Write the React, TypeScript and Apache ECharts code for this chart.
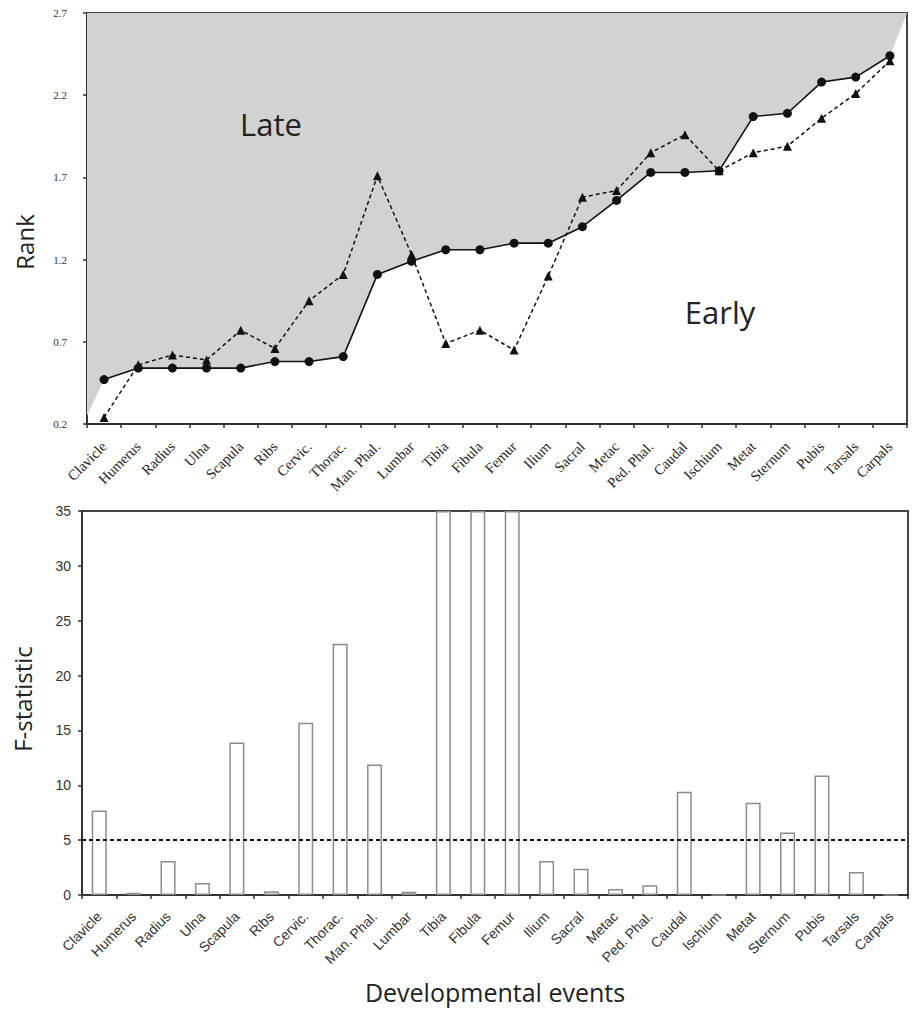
import React, { useEffect, useRef } from "react";
import * as echarts from "echarts";

const categories = [
  "Clavicle", "Humerus", "Radius", "Ulna", "Scapula", "Ribs", "Cervic.", "Thorac.",
  "Man. Phal.", "Lumbar", "Tibia", "Fibula", "Femur", "Ilium", "Sacral", "Metac",
  "Ped. Phal.", "Caudal", "Ischium", "Metat", "Sternum", "Pubis", "Tarsals", "Carpals",
];

const rankCircle = [
  0.47, 0.54, 0.54, 0.54, 0.54, 0.58, 0.58, 0.61, 1.11, 1.19, 1.26, 1.26,
  1.3, 1.3, 1.4, 1.56, 1.73, 1.73, 1.74, 2.07, 2.09, 2.28, 2.31, 2.44,
];

const rankTriangle = [
  0.24, 0.56, 0.62, 0.59, 0.77, 0.66, 0.95, 1.11, 1.71, 1.23, 0.69, 0.77,
  0.65, 1.1, 1.58, 1.62, 1.85, 1.96, 1.74, 1.85, 1.89, 2.06, 2.21, 2.41,
];

const fStatistic = [
  7.7, 0.2, 3.1, 1.1, 13.9, 0.35, 15.7, 22.9, 11.9, 0.3, 35, 35,
  35, 3.1, 2.4, 0.55, 0.9, 9.4, 0, 8.4, 5.7, 10.9, 2.1, 0,
];

const rankTicks = { min: 0.2, max: 2.7, step: 0.5 };
const fTicks = { min: 0, max: 35, step: 5 };
const threshold = 5;
const lateBoundaryStart = 0.25;
const lateBoundaryEnd = 2.7;

export default function App() {
  const ref = useRef<HTMLDivElement>(null);

  useEffect(() => {
    if (!ref.current) return;
    const chart = echarts.init(ref.current, null, { renderer: "svg", width: 913, height: 1009 });
    const n = categories.length;
    const areaData = [
      [0, lateBoundaryStart],
      ...rankCircle.map((v, i) => [i + 0.5, v]),
      [n, lateBoundaryEnd],
    ];
    const axisColor = "#333";
    const serif = "Liberation Serif";
    const sans = "Liberation Sans";
    const titleFont = "Open Sans";

    chart.setOption({
      animation: false,
      backgroundColor: "#fff",
      grid: [
        { left: 87, top: 13, width: 820, height: 411, show: true, borderColor: "#444", borderWidth: 2, backgroundColor: "transparent" },
        { left: 82, top: 511, width: 826, height: 384, show: true, borderColor: "#444", borderWidth: 2, backgroundColor: "transparent" },
      ],
      xAxis: [
        {
          type: "category", gridIndex: 0, data: categories, boundaryGap: true,
          axisLine: { lineStyle: { color: axisColor, width: 2 } },
          axisTick: { show: true, length: 4, lineStyle: { color: axisColor, width: 1.5 } },
          axisLabel: { interval: 0, rotate: 45, fontFamily: serif, fontSize: 14.5, color: "#222", margin: 20 },
        },
        { type: "value", gridIndex: 0, min: 0, max: n, show: false },
        {
          type: "category", gridIndex: 1, data: categories, boundaryGap: true,
          axisLine: { lineStyle: { color: axisColor, width: 2 } },
          axisTick: { show: true, length: 4, lineStyle: { color: axisColor, width: 1.5 } },
          axisLabel: { interval: 0, rotate: 45, fontFamily: sans, fontSize: 14, color: "#333", margin: 19 },
        },
      ],
      yAxis: [
        {
          type: "value", gridIndex: 0, min: rankTicks.min, max: rankTicks.max, interval: rankTicks.step,
          axisLine: { show: true, lineStyle: { color: axisColor, width: 2 } },
          axisTick: { show: true, length: 4, lineStyle: { color: axisColor, width: 1.5 } },
          splitLine: { show: false },
          axisLabel: { fontFamily: serif, fontSize: 11, color: "#333", margin: 20, formatter: (v: number) => v.toFixed(1) },
        },
        {
          type: "value", gridIndex: 1, min: fTicks.min, max: fTicks.max, interval: fTicks.step,
          axisLine: { show: true, lineStyle: { color: axisColor, width: 2 } },
          axisTick: { show: true, length: 4, lineStyle: { color: axisColor, width: 1.5 } },
          splitLine: { show: false },
          axisLabel: { fontFamily: sans, fontSize: 14, color: "#333", margin: 11 },
        },
      ],
      series: [
        {
          type: "line", xAxisIndex: 1, yAxisIndex: 0, data: areaData, symbol: "none", silent: true, z: 1,
          lineStyle: { width: 0 },
          areaStyle: { color: "#d2d2d2", origin: "end", opacity: 1 },
        },
        {
          type: "line", xAxisIndex: 0, yAxisIndex: 0, data: rankTriangle, z: 3,
          symbol: "triangle", symbolSize: 9,
          itemStyle: { color: "#111" },
          lineStyle: { color: "#111", width: 1.5, type: [4, 3] },
        },
        {
          type: "line", xAxisIndex: 0, yAxisIndex: 0, data: rankCircle, z: 4,
          symbol: "circle", symbolSize: 9,
          itemStyle: { color: "#111" },
          lineStyle: { color: "#111", width: 1.6 },
        },
        {
          type: "bar", xAxisIndex: 2, yAxisIndex: 1, data: fStatistic, barWidth: 15, clip: true,
          itemStyle: { color: "#fff", borderColor: "#8c8c8c", borderWidth: 1.5 },
          markLine: {
            symbol: "none", silent: true, label: { show: false },
            lineStyle: { color: "#111", type: [4, 3], width: 1.8 },
            data: [{ yAxis: threshold }],
          },
        },
      ],
      graphic: [
        { type: "text", z: 100, x: 271, y: 124, style: { text: "Late", font: `31px "${titleFont}"`, fill: "#222", align: "center", verticalAlign: "middle" } },
        { type: "text", z: 100, x: 720, y: 312, style: { text: "Early", font: `31px "${titleFont}"`, fill: "#222", align: "center", verticalAlign: "middle" } },
        { type: "text", z: 100, x: 24, y: 242, rotation: Math.PI / 2, style: { text: "Rank", font: `24px "${titleFont}"`, fill: "#222", align: "center", verticalAlign: "middle" } },
        { type: "text", z: 100, x: 22, y: 699, rotation: Math.PI / 2, style: { text: "F-statistic", font: `24px "${titleFont}"`, fill: "#222", align: "center", verticalAlign: "middle" } },
        { type: "text", z: 100, x: 495, y: 992, style: { text: "Developmental events", font: `25px "${titleFont}"`, fill: "#222", align: "center", verticalAlign: "middle" } },
      ],
    });
    return () => chart.dispose();
  }, []);

  return <div ref={ref} style={{ position: "absolute", left: 0, top: 0, width: 913, height: 1009 }} />;
}
